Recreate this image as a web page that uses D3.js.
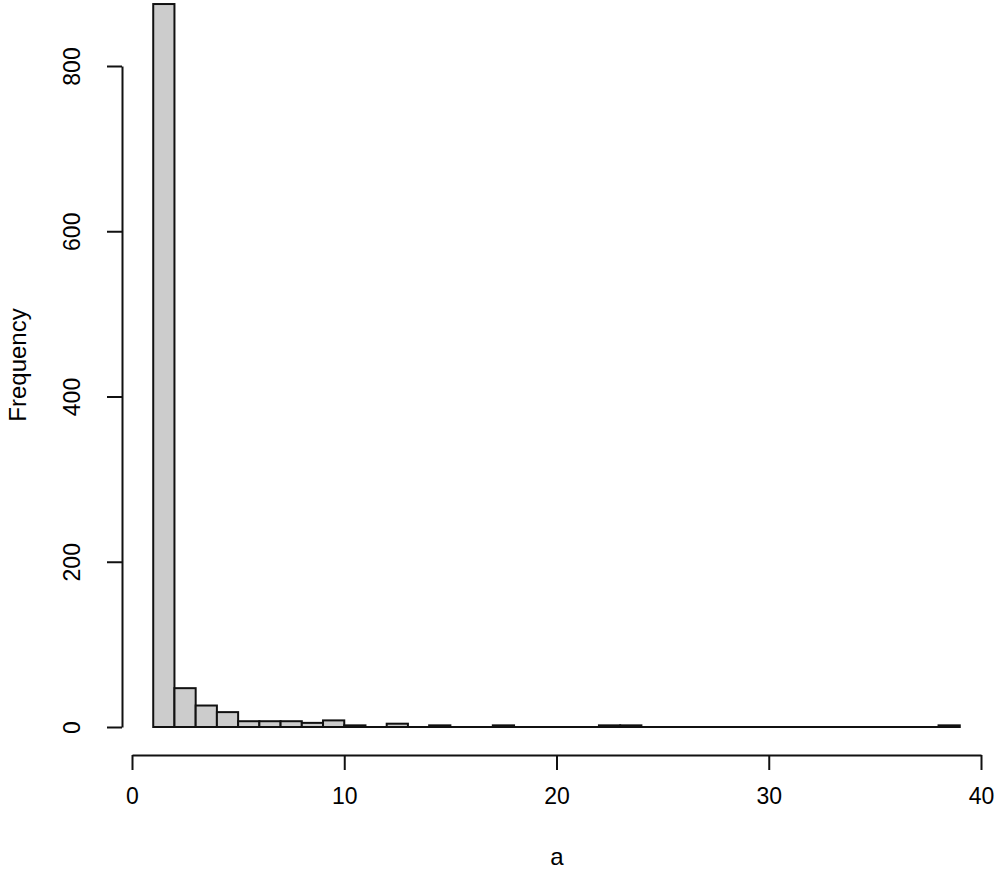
<!DOCTYPE html>
<html>
<head>
<meta charset="utf-8">
<script src="https://cdn.jsdelivr.net/npm/d3@7"></script>
<style>
  body { margin: 0; background: #fff; }
  text { font-family: "Liberation Sans", Arial, sans-serif; fill: #000; }
</style>
</head>
<body>
<script>
// histogram of a, bins of width 1
var binStarts = [1, 2, 3, 4, 5, 6, 7, 8, 9, 10, 11, 12, 13, 14, 15, 16, 17, 18, 19, 20,
                 21, 22, 23, 24, 25, 26, 27, 28, 29, 30, 31, 32, 33, 34, 35, 36, 37, 38];
var counts = [875, 47, 26, 18, 7, 7, 7, 5, 8, 2, 0, 4, 0, 2, 0, 0, 2, 0, 0, 0,
              0, 2, 2, 0, 0, 0, 0, 0, 0, 0, 0, 0, 0, 0, 0, 0, 0, 2];
var xTicks = [0, 10, 20, 30, 40];
var yTicks = [0, 200, 400, 600, 800];

var w = 1000,
    h = 877;

var svg = d3.select("body")
    .append("svg")
    .attr("width", w)
    .attr("height", h);

var x = d3.scaleLinear().domain([0, 40]).range([132, 981]);
var y = d3.scaleLinear().domain([0, 800]).range([727, 66]);

var bins = binStarts.map(function (s, i) {
    return { x0: s, x1: s + 1, n: counts[i] };
});

// baseline under every bin (R draws empty bins as flat rects)
svg.append("line")
    .attr("x1", x(binStarts[0]))
    .attr("x2", x(binStarts[binStarts.length - 1] + 1))
    .attr("y1", y(0))
    .attr("y2", y(0))
    .attr("stroke", "#111")
    .attr("stroke-width", 2);

svg.selectAll("rect.bar")
    .data(bins.filter(function (d) { return d.n > 0; }))
    .enter()
    .append("rect")
    .attr("class", "bar")
    .attr("x", function (d) { return x(d.x0); })
    .attr("width", function (d) { return x(d.x1) - x(d.x0); })
    .attr("y", function (d) { return y(d.n); })
    .attr("height", function (d) { return y(0) - y(d.n); })
    .attr("fill", "#cccccc")
    .attr("stroke", "#111")
    .attr("stroke-width", 2);

// y axis
var yAxis = svg.append("g")
    .attr("transform", "translate(122,0)")
    .call(d3.axisLeft(y).tickValues(yTicks).tickSize(15).tickSizeOuter(0).tickFormat(d3.format("d")));
yAxis.select(".domain").attr("stroke", "#111").attr("stroke-width", 2);
yAxis.selectAll(".tick line").attr("stroke", "#111").attr("stroke-width", 2);
yAxis.selectAll(".tick text")
    .attr("x", 0)
    .attr("dy", 0)
    .attr("text-anchor", "middle")
    .attr("font-size", 23)
    .attr("font-family", "Liberation Sans, Arial, sans-serif")
    .attr("transform", "translate(-42,0) rotate(-90)");

// x axis
var xAxis = svg.append("g")
    .attr("transform", "translate(0,755)")
    .call(d3.axisBottom(x).tickValues(xTicks).tickSize(15).tickSizeOuter(0).tickFormat(d3.format("d")));
xAxis.select(".domain").attr("stroke", "#111").attr("stroke-width", 2);
xAxis.selectAll(".tick line").attr("stroke", "#111").attr("stroke-width", 2);
xAxis.selectAll(".tick text")
    .attr("y", 41)
    .attr("dy", "0.35em")
    .attr("font-size", 23)
    .attr("font-family", "Liberation Sans, Arial, sans-serif");

// axis titles
svg.append("text")
    .attr("x", 557)
    .attr("y", 857)
    .attr("dy", "0.35em")
    .attr("text-anchor", "middle")
    .attr("font-size", 24)
    .text("a");

svg.append("text")
    .attr("transform", "translate(18,365) rotate(-90)")
    .attr("dy", "0.35em")
    .attr("text-anchor", "middle")
    .attr("font-size", 24)
    .text("Frequency");
</script>
</body>
</html>
